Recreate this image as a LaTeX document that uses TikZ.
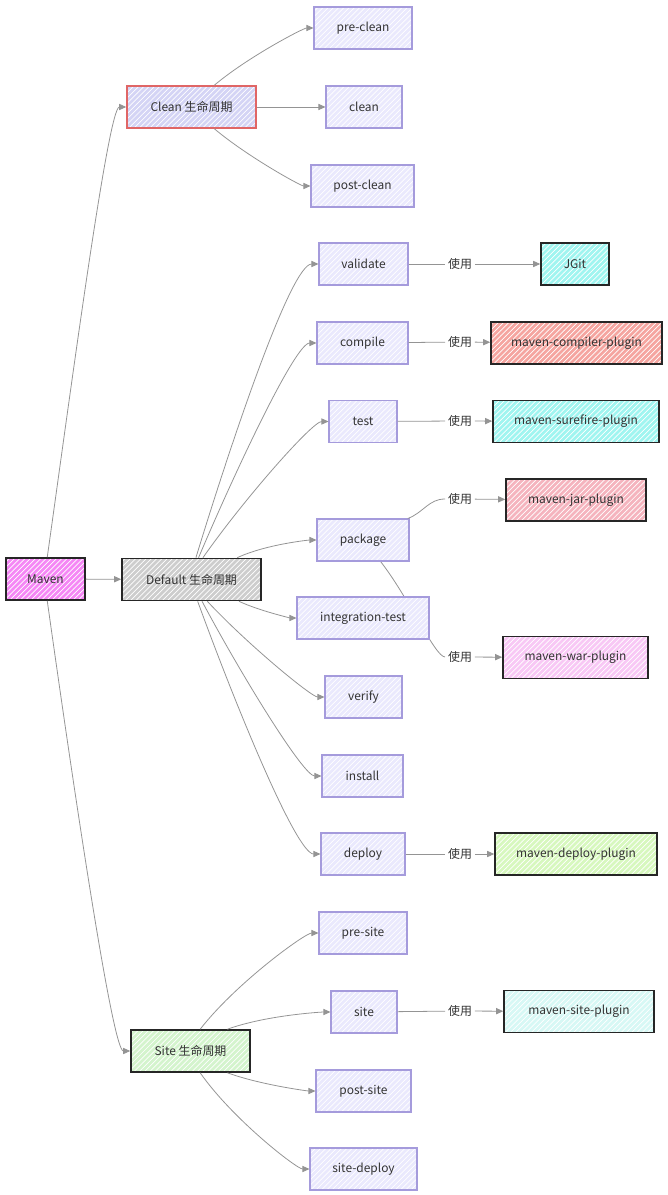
\documentclass[tikz,border=0pt]{standalone}
\usepackage{fontspec}
\setmainfont{Noto Sans CJK SC}
\usepackage{xcolor}
\usetikzlibrary{arrows.meta, patterns, backgrounds}
\definecolor{phasefill}{RGB}{234,233,253}
\definecolor{phaseline}{RGB}{165,155,220}
\definecolor{mavenc}{RGB}{245,135,245}
\definecolor{defaultc}{RGB}{205,205,205}
\definecolor{cleanc}{RGB}{212,212,245}
\definecolor{cleanline}{RGB}{224,102,102}
\definecolor{sitec}{RGB}{212,244,205}
\definecolor{cyanc}{RGB}{160,245,240}
\definecolor{salmonc}{RGB}{245,165,160}
\definecolor{jarc}{RGB}{245,180,190}
\definecolor{warc}{RGB}{248,200,245}
\definecolor{deployc}{RGB}{215,248,190}
\definecolor{sitepc}{RGB}{215,248,245}

\begin{document}
\begin{tikzpicture}[x=0.02cm, y={(0cm,-0.02cm)},
  font=\fontsize{6.8}{8}\selectfont, >={Triangle[length=4pt, width=3.5pt]},
  box/.style={draw, minimum height=0.84cm, inner sep=0pt, text=black!80,
    preaction={fill=#1}, pattern=north east lines, pattern color=white},
  phasebox/.style={box=phasefill, draw=phaseline, line width=0.6pt},
  plugin/.style={box=#1, draw=black!85, line width=0.9pt},
  flow/.style={->, draw=black!42, line width=0.45pt},
  fan/.style={out=#1, in=180, out looseness=1, in looseness=0.22},
  uselabel/.style={inner sep=1.5pt, text=black!80}]

\useasboundingbox (0,0) rectangle (667,1195);

%% lifecycles
\node[plugin=mavenc, minimum width=1.58cm] (maven) at (45.5,579) {Maven};
\node[plugin=defaultc, minimum width=2.78cm] (def) at (191.5,579.5) {Default 生命周期};
\node[box=cleanc, draw=cleanline, line width=0.9pt, minimum width=2.58cm] (cln) at (191.5,107) {Clean 生命周期};
\node[plugin=sitec, minimum width=2.38cm] (site) at (190.5,1051) {Site 生命周期};

%% clean phases
\node[phasebox, minimum width=1.96cm] (preclean) at (363,28) {pre-clean};
\node[phasebox, minimum width=1.52cm] (clean) at (364,107) {clean};
\node[phasebox, minimum width=2.06cm] (postclean) at (362.5,186) {post-clean};

%% default phases
\node[phasebox, minimum width=1.78cm] (validate) at (363.5,264) {validate};
\node[phasebox, minimum width=1.82cm] (compile) at (362.5,343) {compile};
\node[phasebox, minimum width=1.36cm] (test) at (363,421.5) {test};
\node[phasebox, minimum width=1.84cm] (package) at (363,540) {package};
\node[phasebox, minimum width=2.64cm] (itest) at (363,618) {integration-test};
\node[phasebox, minimum width=1.54cm] (verify) at (363.5,697) {verify};
\node[phasebox, minimum width=1.62cm] (install) at (362.5,776) {install};
\node[phasebox, minimum width=1.68cm] (deploy) at (363,854) {deploy};

%% site phases
\node[phasebox, minimum width=1.76cm] (presite) at (363,933) {pre-site};
\node[phasebox, minimum width=1.32cm] (sitep) at (364,1012) {site};
\node[phasebox, minimum width=1.90cm] (postsite) at (363.5,1091) {post-site};
\node[phasebox, minimum width=2.14cm] (sitedeploy) at (363.5,1169) {site-deploy};

%% plugins
\node[plugin=cyanc, minimum width=1.36cm] (jgit) at (575,264) {JGit};
\node[plugin=salmonc, minimum width=3.42cm] (compilerp) at (576.5,343) {maven-compiler-plugin};
\node[plugin=cyanc, minimum width=3.32cm] (surefirep) at (576,421.5) {maven-surefire-plugin};
\node[plugin=jarc, minimum width=2.80cm] (jarp) at (576,500) {maven-jar-plugin};
\node[plugin=warc, minimum width=2.90cm] (warp) at (575.5,657.5) {maven-war-plugin};
\node[plugin=deployc, minimum width=3.24cm] (deployp) at (576,854) {maven-deploy-plugin};
\node[plugin=sitepc, minimum width=3.00cm] (sitepp) at (579,1011.5) {maven-site-plugin};

%% "使用" labels
\node[uselabel] (u1) at (460,264) {使用};
\node[uselabel] (u2) at (460,342) {使用};
\node[uselabel] (u3) at (460,421) {使用};
\node[uselabel] (u4) at (460,499) {使用};
\node[uselabel] (u5) at (460,657) {使用};
\node[uselabel] (u6) at (460,854) {使用};
\node[uselabel] (u7) at (460,1011) {使用};

%% root
\draw[flow] (maven) -- (def);
\draw[flow] ([xshift=1pt]maven.north) to[fan=82, in looseness=0.1] (cln);
\draw[flow] ([xshift=1pt]maven.south) to[fan=-82, in looseness=0.1] (site);

%% clean
\draw[flow] ([xshift=13pt]cln.north) to[fan=40] (preclean);
\draw[flow] (cln) -- (clean);
\draw[flow] ([xshift=13pt]cln.south) to[fan=-40] (postclean);

%% default
\draw[flow] ([xshift=2.5pt]def.north) to[fan=73] (validate);
\draw[flow] ([xshift=4pt]def.north) to[fan=67] (compile);
\draw[flow] ([xshift=6.5pt]def.north) to[fan=55] (test);
\draw[flow] ([xshift=26pt]def.north) to[fan=25] (package);
\draw[flow] ([xshift=27pt]def.south) to[fan=-25] (itest);
\draw[flow] ([xshift=9pt]def.south) to[fan=-47] (verify);
\draw[flow] ([xshift=6pt]def.south) to[fan=-62] (install);
\draw[flow] ([xshift=3.5pt]def.south) to[fan=-70] (deploy);

%% site
\draw[flow] ([xshift=5.5pt]site.north) to[fan=52] (presite);
\draw[flow] ([xshift=21pt]site.north) to[fan=20] (sitep);
\draw[flow] ([xshift=21pt]site.south) to[fan=-20] (postsite);
\draw[flow] ([xshift=5.5pt]site.south) to[fan=-55] (sitedeploy);

%% plugins
\draw[flow] (validate) -- (u1) -- (jgit);
\draw[flow] (compile) -- (u2) -- (compilerp);
\draw[flow] (test) -- (u3) -- (surefirep);
\draw[flow] ([xshift=-1pt]package.north east) to[out=20, in=180] (u4) -- (jarp);
\begin{scope}[on background layer]
\draw[flow] ([xshift=10pt]package.south) to[fan=-52] (u5) -- (warp);
\end{scope}
\draw[flow] (deploy) -- (u6) -- (deployp);
\draw[flow] (sitep) -- (u7) -- (sitepp);

\end{tikzpicture}
\end{document}
